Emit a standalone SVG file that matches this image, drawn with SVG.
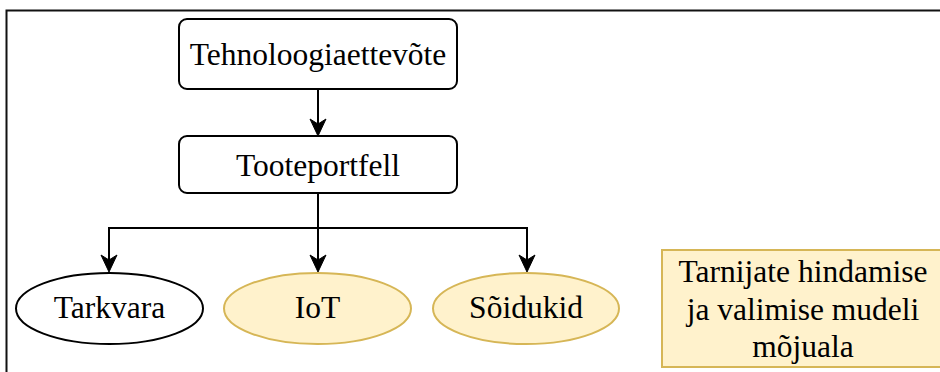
<svg xmlns="http://www.w3.org/2000/svg" width="940" height="372" viewBox="0 0 940 372">
  <style>
    .lbl { font-family: "Liberation Serif", "Times New Roman", "DejaVu Serif", serif; font-size: 31.5px; fill: #000; text-anchor: middle; }
    .box { fill: #ffffff; stroke: #000; stroke-width: 2; }
    .plain { fill: #ffffff; stroke: #000; stroke-width: 2; }
    .warm { fill: #fff2cc; stroke: #d6b656; stroke-width: 2; }
    .edge { fill: none; stroke: #000; stroke-width: 2; }
    .head { fill: #000; stroke: #000; stroke-width: 1; stroke-linejoin: miter; }
    .frame { fill: none; stroke: #111; stroke-width: 2; }
  </style>
  <defs>
    <!-- downward arrowhead, tip at origin -->
    <path id="head" class="head" d="M0,0 L-8,-17 L0,-12 L8,-17 Z"/>
  </defs>

  <rect width="940" height="372" fill="#ffffff"/>
  <!-- outer frame (top and left edges) -->
  <path class="frame" d="M6.5,372 V10.5 H940"/>

  <g id="connectors">
    <path class="edge" d="M318,89 V126"/>
    <use href="#head" x="318" y="136"/>
    <path class="edge" d="M318,193 V262"/>
    <use href="#head" x="318" y="272"/>
    <path class="edge" d="M318,228 H109 V262"/>
    <use href="#head" x="109" y="272"/>
    <path class="edge" d="M318,228 H527 V262"/>
    <use href="#head" x="527" y="272"/>
  </g>

  <g id="node-company">
    <rect class="box" x="179" y="19" width="278" height="70" rx="8"/>
    <text class="lbl" x="318" y="65">Tehnoloogiaettevõte</text>
  </g>

  <g id="node-portfolio">
    <rect class="box" x="179" y="136" width="278" height="57" rx="8"/>
    <text class="lbl" x="318" y="176">Tooteportfell</text>
  </g>

  <g id="node-software">
    <ellipse class="plain" cx="109.5" cy="308.5" rx="93.5" ry="35.5"/>
    <text class="lbl" x="109.5" y="318">Tarkvara</text>
  </g>

  <g id="node-iot">
    <ellipse class="warm" cx="317.5" cy="308.5" rx="93.5" ry="35.5"/>
    <text class="lbl" x="317.5" y="318">IoT</text>
  </g>

  <g id="node-vehicles">
    <ellipse class="warm" cx="526" cy="308.5" rx="93" ry="35.5"/>
    <text class="lbl" x="526" y="318">Sõidukid</text>
  </g>

  <g id="node-scope">
    <rect class="warm" x="662" y="250" width="282" height="117"/>
    <text class="lbl" x="803" y="282">Tarnijate hindamise</text>
    <text class="lbl" x="803" y="319.5">ja valimise mudeli</text>
    <text class="lbl" x="803" y="357">mõjuala</text>
  </g>
</svg>
